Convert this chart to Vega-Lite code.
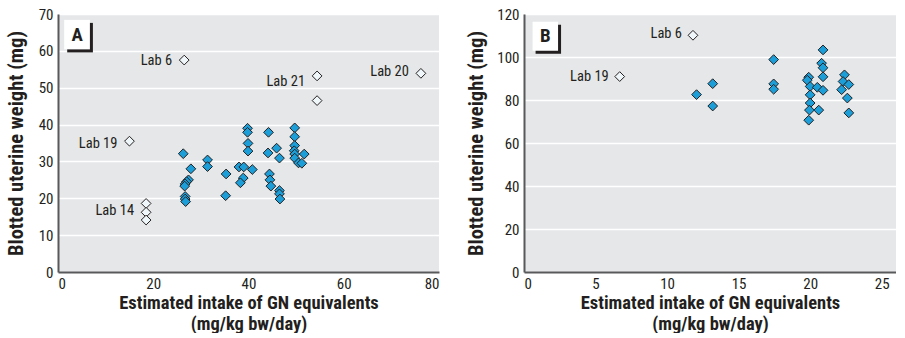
{
  "$schema": "https://vega.github.io/schema/vega-lite/v6.json",
  "background": "white",
  "padding": {"left": 6, "top": 7, "right": 0, "bottom": 0},
  "bounds": "flush",
  "spacing": 85,
  "config": {
    "view": {"fill": "#e6e7e8", "stroke": null},
    "font": "Roboto Condensed, DejaVu Sans Condensed, sans-serif",
    "axis": {
      "domainColor": "#58595b",
      "domainWidth": 2,
      "ticks": false,
      "tickSize": 0,
      "labelOverlap": false,
      "labelFont": "Roboto Condensed, DejaVu Sans Condensed, sans-serif",
      "labelFontSize": 15,
      "labelColor": "#231f20",
      "titleFont": "Roboto Condensed, DejaVu Sans Condensed, sans-serif",
      "titleFontWeight": "bold",
      "titleColor": "#231f20",
      "gridColor": "#ffffff",
      "gridWidth": 1.5,
      "gridOpacity": 1
    },
    "axisX": {"titleFontSize": 18.5, "titleLineHeight": 21.5, "titlePadding": 2, "labelPadding": 4, "grid": false},
    "axisY": {"titleFontSize": 20.5, "labelPadding": 5, "grid": true}
  },
  "datasets": {
    "points": [
      {"panel": "A", "kind": "filled", "x": 26.3, "y": 32.1},
      {"panel": "A", "kind": "filled", "x": 27.9, "y": 28.0},
      {"panel": "A", "kind": "filled", "x": 27.4, "y": 25.0},
      {"panel": "A", "kind": "filled", "x": 27.0, "y": 24.5},
      {"panel": "A", "kind": "filled", "x": 26.7, "y": 23.9},
      {"panel": "A", "kind": "filled", "x": 26.6, "y": 23.3},
      {"panel": "A", "kind": "filled", "x": 26.7, "y": 20.5},
      {"panel": "A", "kind": "filled", "x": 26.7, "y": 19.8},
      {"panel": "A", "kind": "filled", "x": 26.8, "y": 19.1},
      {"panel": "A", "kind": "filled", "x": 31.4, "y": 30.4},
      {"panel": "A", "kind": "filled", "x": 31.4, "y": 28.6},
      {"panel": "A", "kind": "filled", "x": 35.3, "y": 26.6},
      {"panel": "A", "kind": "filled", "x": 35.2, "y": 20.7},
      {"panel": "A", "kind": "filled", "x": 38.0, "y": 28.5},
      {"panel": "A", "kind": "filled", "x": 39.0, "y": 28.5},
      {"panel": "A", "kind": "filled", "x": 38.9, "y": 25.5},
      {"panel": "A", "kind": "filled", "x": 38.3, "y": 24.2},
      {"panel": "A", "kind": "filled", "x": 39.8, "y": 39.0},
      {"panel": "A", "kind": "filled", "x": 39.8, "y": 37.9},
      {"panel": "A", "kind": "filled", "x": 39.9, "y": 34.9},
      {"panel": "A", "kind": "filled", "x": 39.9, "y": 32.8},
      {"panel": "A", "kind": "filled", "x": 40.8, "y": 27.8},
      {"panel": "A", "kind": "filled", "x": 44.2, "y": 37.9},
      {"panel": "A", "kind": "filled", "x": 44.1, "y": 32.3},
      {"panel": "A", "kind": "filled", "x": 45.9, "y": 33.6},
      {"panel": "A", "kind": "filled", "x": 46.5, "y": 30.9},
      {"panel": "A", "kind": "filled", "x": 44.4, "y": 26.6},
      {"panel": "A", "kind": "filled", "x": 44.5, "y": 25.0},
      {"panel": "A", "kind": "filled", "x": 44.7, "y": 23.3},
      {"panel": "A", "kind": "filled", "x": 46.5, "y": 22.1},
      {"panel": "A", "kind": "filled", "x": 46.5, "y": 21.2},
      {"panel": "A", "kind": "filled", "x": 46.6, "y": 19.8},
      {"panel": "A", "kind": "filled", "x": 49.7, "y": 39.1},
      {"panel": "A", "kind": "filled", "x": 49.7, "y": 36.7},
      {"panel": "A", "kind": "filled", "x": 49.7, "y": 34.3},
      {"panel": "A", "kind": "filled", "x": 49.6, "y": 32.9},
      {"panel": "A", "kind": "filled", "x": 49.7, "y": 32.0},
      {"panel": "A", "kind": "filled", "x": 49.7, "y": 30.9},
      {"panel": "A", "kind": "filled", "x": 51.7, "y": 32.0},
      {"panel": "A", "kind": "filled", "x": 50.5, "y": 29.6},
      {"panel": "A", "kind": "filled", "x": 51.2, "y": 29.5},
      {"panel": "A", "kind": "open", "x": 26.5, "y": 57.5},
      {"panel": "A", "kind": "open", "x": 54.4, "y": 53.2},
      {"panel": "A", "kind": "open", "x": 54.4, "y": 46.5},
      {"panel": "A", "kind": "open", "x": 76.2, "y": 53.9},
      {"panel": "A", "kind": "open", "x": 15.0, "y": 35.5},
      {"panel": "A", "kind": "open", "x": 18.5, "y": 18.6},
      {"panel": "A", "kind": "open", "x": 18.5, "y": 16.2},
      {"panel": "A", "kind": "open", "x": 18.5, "y": 14.1},
      {"panel": "B", "kind": "filled", "x": 12.06, "y": 82.5},
      {"panel": "B", "kind": "filled", "x": 13.19, "y": 87.6},
      {"panel": "B", "kind": "filled", "x": 13.19, "y": 77.2},
      {"panel": "B", "kind": "filled", "x": 17.45, "y": 98.8},
      {"panel": "B", "kind": "filled", "x": 17.45, "y": 87.5},
      {"panel": "B", "kind": "filled", "x": 17.45, "y": 85.0},
      {"panel": "B", "kind": "filled", "x": 19.9, "y": 90.6},
      {"panel": "B", "kind": "filled", "x": 19.8, "y": 89.2},
      {"panel": "B", "kind": "filled", "x": 20.0, "y": 86.3},
      {"panel": "B", "kind": "filled", "x": 20.0, "y": 82.4},
      {"panel": "B", "kind": "filled", "x": 20.0, "y": 78.6},
      {"panel": "B", "kind": "filled", "x": 19.95, "y": 75.3},
      {"panel": "B", "kind": "filled", "x": 19.9, "y": 70.6},
      {"panel": "B", "kind": "filled", "x": 20.9, "y": 103.3},
      {"panel": "B", "kind": "filled", "x": 20.8, "y": 97.1},
      {"panel": "B", "kind": "filled", "x": 20.9, "y": 95.0},
      {"panel": "B", "kind": "filled", "x": 20.9, "y": 90.8},
      {"panel": "B", "kind": "filled", "x": 20.5, "y": 85.9},
      {"panel": "B", "kind": "filled", "x": 20.9, "y": 84.5},
      {"panel": "B", "kind": "filled", "x": 20.6, "y": 75.3},
      {"panel": "B", "kind": "filled", "x": 22.4, "y": 91.7},
      {"panel": "B", "kind": "filled", "x": 22.3, "y": 88.6},
      {"panel": "B", "kind": "filled", "x": 22.7, "y": 87.2},
      {"panel": "B", "kind": "filled", "x": 22.2, "y": 84.8},
      {"panel": "B", "kind": "filled", "x": 22.6, "y": 80.9},
      {"panel": "B", "kind": "filled", "x": 22.7, "y": 74.0},
      {"panel": "B", "kind": "open", "x": 11.81, "y": 110.1},
      {"panel": "B", "kind": "open", "x": 6.69, "y": 90.9}
    ],
    "labels": [
      {"panel": "A", "label": "Lab 6", "x": 26.5, "y": 57.2},
      {"panel": "A", "label": "Lab 21", "x": 54.4, "y": 51.5},
      {"panel": "A", "label": "Lab 20", "x": 76.2, "y": 54.3},
      {"panel": "A", "label": "Lab 19", "x": 15.0, "y": 34.8},
      {"panel": "A", "label": "Lab 14", "x": 18.5, "y": 16.5},
      {"panel": "B", "label": "Lab 6", "x": 11.81, "y": 110.6},
      {"panel": "B", "label": "Lab 19", "x": 6.69, "y": 90.6}
    ]
  },
  "hconcat": [
    {
      "width": 381,
      "height": 258,
      "layer": [
        {
          "data": {"name": "points"},
          "transform": [{"filter": "datum.panel === 'A'"}],
          "mark": {"type": "point", "shape": "diamond", "size": 95, "filled": true, "stroke": "#231f20", "strokeWidth": 1, "opacity": 1},
          "encoding": {
            "x": {"field": "x", "type": "quantitative", "scale": {"domain": [0, 80]},
              "axis": {"values": [0, 20, 40, 60, 80], "title": ["Estimated intake of GN equivalents", "(mg/kg bw/day)"]}},
            "y": {"field": "y", "type": "quantitative", "scale": {"domain": [0, 70]},
              "axis": {"values": [0, 10, 20, 30, 40, 50, 60, 70], "titlePadding": 12, "title": "Blotted uterine weight (mg)"}},
            "fill": {"field": "kind", "type": "nominal", "scale": {"domain": ["filled", "open"], "range": ["#1c9fd9", "#f0f7fb"]}, "legend": null}
          }
        },
        {
          "data": {"name": "labels"},
          "transform": [{"filter": "datum.panel === 'A'"}],
          "mark": {"type": "text", "align": "right", "baseline": "middle", "dx": -12, "fontSize": 14.5, "color": "#231f20"},
          "encoding": {
            "x": {"field": "x", "type": "quantitative",
              "axis": {"values": [0, 20, 40, 60, 80], "title": ["Estimated intake of GN equivalents", "(mg/kg bw/day)"]}},
            "y": {"field": "y", "type": "quantitative",
              "axis": {"values": [0, 10, 20, 30, 40, 50, 60, 70], "titlePadding": 12, "title": "Blotted uterine weight (mg)"}},
            "text": {"field": "label"}
          }
        },
        {
          "data": {"values": [{}]},
          "mark": {"type": "rect", "color": "#231f20", "xOffset": 3, "x2Offset": 3, "yOffset": 3, "y2Offset": 3},
          "encoding": {
            "x": {"datum": 1.3, "type": "quantitative",
              "axis": {"values": [0, 20, 40, 60, 80], "title": ["Estimated intake of GN equivalents", "(mg/kg bw/day)"]}},
            "x2": {"datum": 6.7},
            "y": {"datum": 68.4, "type": "quantitative",
              "axis": {"values": [0, 10, 20, 30, 40, 50, 60, 70], "titlePadding": 12, "title": "Blotted uterine weight (mg)"}},
            "y2": {"datum": 60.4}
          }
        },
        {
          "data": {"values": [{}]},
          "mark": {"type": "rect", "color": "#ffffff"},
          "encoding": {
            "x": {"datum": 1.3, "type": "quantitative",
              "axis": {"values": [0, 20, 40, 60, 80], "title": ["Estimated intake of GN equivalents", "(mg/kg bw/day)"]}},
            "x2": {"datum": 6.7},
            "y": {"datum": 68.4, "type": "quantitative",
              "axis": {"values": [0, 10, 20, 30, 40, 50, 60, 70], "titlePadding": 12, "title": "Blotted uterine weight (mg)"}},
            "y2": {"datum": 60.4}
          }
        },
        {
          "data": {"values": [{"t": "A"}]},
          "mark": {"type": "text", "fontSize": 19, "fontWeight": "bold", "color": "#231f20", "align": "center", "baseline": "middle"},
          "encoding": {
            "x": {"datum": 4.0, "type": "quantitative",
              "axis": {"values": [0, 20, 40, 60, 80], "title": ["Estimated intake of GN equivalents", "(mg/kg bw/day)"]}},
            "y": {"datum": 64.4, "type": "quantitative",
              "axis": {"values": [0, 10, 20, 30, 40, 50, 60, 70], "titlePadding": 12, "title": "Blotted uterine weight (mg)"}},
            "text": {"field": "t"}
          }
        }
      ]
    },
    {
      "width": 372,
      "height": 258,
      "layer": [
        {
          "data": {"name": "points"},
          "transform": [{"filter": "datum.panel === 'B'"}],
          "mark": {"type": "point", "shape": "diamond", "size": 95, "filled": true, "stroke": "#231f20", "strokeWidth": 1, "opacity": 1},
          "encoding": {
            "x": {"field": "x", "type": "quantitative", "scale": {"domain": [0, 25]},
              "axis": {"values": [0, 5, 10, 15, 20, 25], "title": ["Estimated intake of GN equivalents", "(mg/kg bw/day)"]}},
            "y": {"field": "y", "type": "quantitative", "scale": {"domain": [0, 120]},
              "axis": {"values": [0, 20, 40, 60, 80, 100, 120], "titlePadding": 10, "title": "Blotted uterine weight (mg)"}},
            "fill": {"field": "kind", "type": "nominal", "scale": {"domain": ["filled", "open"], "range": ["#1c9fd9", "#f0f7fb"]}, "legend": null}
          }
        },
        {
          "data": {"name": "labels"},
          "transform": [{"filter": "datum.panel === 'B'"}],
          "mark": {"type": "text", "align": "right", "baseline": "middle", "dx": -11, "fontSize": 14.5, "color": "#231f20"},
          "encoding": {
            "x": {"field": "x", "type": "quantitative",
              "axis": {"values": [0, 5, 10, 15, 20, 25], "title": ["Estimated intake of GN equivalents", "(mg/kg bw/day)"]}},
            "y": {"field": "y", "type": "quantitative",
              "axis": {"values": [0, 20, 40, 60, 80, 100, 120], "titlePadding": 10, "title": "Blotted uterine weight (mg)"}},
            "text": {"field": "label"}
          }
        },
        {
          "data": {"values": [{}]},
          "mark": {"type": "rect", "color": "#231f20", "xOffset": 3, "x2Offset": 3, "yOffset": 3, "y2Offset": 3},
          "encoding": {
            "x": {"datum": 0.6, "type": "quantitative",
              "axis": {"values": [0, 5, 10, 15, 20, 25], "title": ["Estimated intake of GN equivalents", "(mg/kg bw/day)"]}},
            "x2": {"datum": 2.38},
            "y": {"datum": 116.4, "type": "quantitative",
              "axis": {"values": [0, 20, 40, 60, 80, 100, 120], "titlePadding": 10, "title": "Blotted uterine weight (mg)"}},
            "y2": {"datum": 102.9}
          }
        },
        {
          "data": {"values": [{}]},
          "mark": {"type": "rect", "color": "#ffffff"},
          "encoding": {
            "x": {"datum": 0.6, "type": "quantitative",
              "axis": {"values": [0, 5, 10, 15, 20, 25], "title": ["Estimated intake of GN equivalents", "(mg/kg bw/day)"]}},
            "x2": {"datum": 2.38},
            "y": {"datum": 116.4, "type": "quantitative",
              "axis": {"values": [0, 20, 40, 60, 80, 100, 120], "titlePadding": 10, "title": "Blotted uterine weight (mg)"}},
            "y2": {"datum": 102.9}
          }
        },
        {
          "data": {"values": [{"t": "B"}]},
          "mark": {"type": "text", "fontSize": 19, "fontWeight": "bold", "color": "#231f20", "align": "center", "baseline": "middle"},
          "encoding": {
            "x": {"datum": 1.49, "type": "quantitative",
              "axis": {"values": [0, 5, 10, 15, 20, 25], "title": ["Estimated intake of GN equivalents", "(mg/kg bw/day)"]}},
            "y": {"datum": 109.6, "type": "quantitative",
              "axis": {"values": [0, 20, 40, 60, 80, 100, 120], "titlePadding": 10, "title": "Blotted uterine weight (mg)"}},
            "text": {"field": "t"}
          }
        }
      ]
    }
  ]
}
